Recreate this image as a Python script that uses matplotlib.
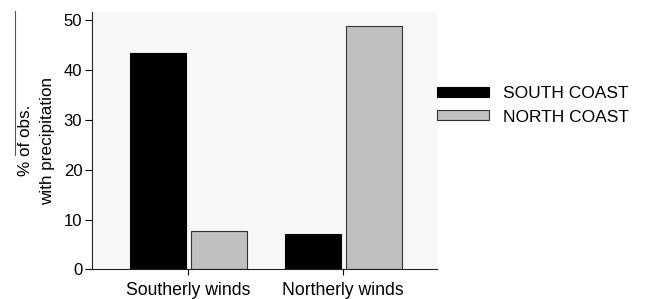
import numpy as np
import matplotlib.pyplot as plt
from matplotlib.lines import Line2D

plt.rcParams['font.family'] = ['Liberation Sans', 'DejaVu Sans']

categories = ['Southerly winds', 'Northerly winds']
south_coast = [43.4, 7.0]
north_coast = [7.7, 48.9]
series_names = ['SOUTH COAST', 'NORTH COAST']

fig = plt.figure(figsize=(6.46, 2.99), dpi=100)
ax = fig.add_axes([0.1424, 0.0993, 0.534, 0.861])
ax.set_facecolor('#f8f8f8')

x = np.arange(len(categories))
width = 0.36
ax.bar(x - 0.197, south_coast, width, color='black', edgecolor='black', linewidth=0.8, label=series_names[0])
ax.bar(x + 0.197, north_coast, width, color='#c0c0c0', edgecolor='#333333', linewidth=0.8, label=series_names[1])

ax.set_xlim(-0.621, 1.605)
ax.set_ylim(0, 51.7)
ax.set_yticks([0, 10, 20, 30, 40, 50])
ax.set_xticks(x)
ax.set_xticklabels(categories, fontsize=12.7)
ax.tick_params(axis='y', labelsize=12, length=5, width=0.8, pad=2)
ax.tick_params(axis='x', length=4, width=0.8, direction='out', pad=5)
for s in ['top', 'right']:
    ax.spines[s].set_visible(False)
for s in ['left', 'bottom']:
    ax.spines[s].set_linewidth(0.8)
    ax.spines[s].set_color('#222222')

ax.set_ylabel('% of obs.\nwith precipitation', fontsize=12.3, labelpad=6, linespacing=1.6)

fig.legend(loc='upper left', bbox_to_anchor=(0.652, 0.765), frameon=False,
           fontsize=12.5, handlelength=3.0, handleheight=0.5, handletextpad=0.8,
           labelspacing=0.5)

# stray vertical rule at the left edge
fig.add_artist(Line2D([14.5 / 646, 14.5 / 646], [1 - 11 / 299, 1 - 155 / 299],
                      color='#555555', linewidth=0.8))

fig.savefig('out.png', dpi=100)
